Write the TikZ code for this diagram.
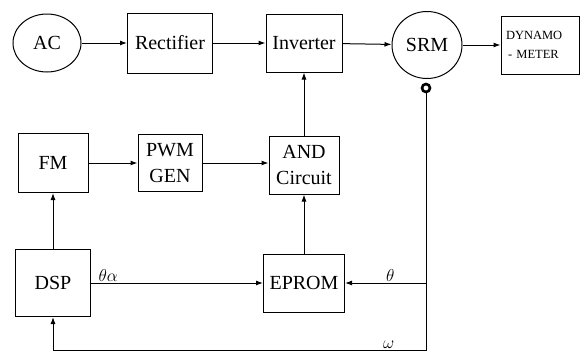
\documentclass[tikz,border=0pt]{standalone}
\usepackage{fontspec}
\setmainfont{Liberation Serif}
\usetikzlibrary{arrows.meta,positioning,shapes.geometric}
\tikzset{
  blk/.style ={draw,line width=1pt,minimum width=75pt,minimum height=58pt,align=center,
               inner sep=2pt,font=\rmfamily\fontsize{20}{26}\selectfont},
  src/.style ={blk,ellipse,minimum width=68pt,minimum height=58pt},
  sig/.style ={-{Latex[length=7pt,width=5pt]},line width=1pt},
  lbl/.style ={font=\fontsize{17}{20}\selectfont,inner sep=1pt},
}

\begin{document}
\begin{tikzpicture}[x=1pt,y=1pt]
\useasboundingbox (0,0) rectangle (580,-354);

% ---- power path ---------------------------------------------------------
\node[src] (ac) at (47,-43) {AC};
\node[blk,minimum width=85pt,minimum height=60pt] (rect) at (170,-43) {Rectifier};
\node[blk,minimum width=76pt] (inv) at (304,-43) {Inverter};
\node[src,minimum width=70pt,minimum height=67pt] (srm) at (427,-45) {SRM};
\node[blk,minimum width=78pt,text width=68pt,inner sep=5pt,align=left,
      font=\rmfamily\fontsize{12.5}{19}\selectfont] (dyn) at (540,-45) {DYNAMO\\\,- METER};
\node[circle,draw,line width=2.6pt,inner sep=0pt,minimum size=8pt] (enc) at (426,-88) {};

% ---- control path -------------------------------------------------------
\node[blk,minimum width=70pt,minimum height=59pt] (fm) at (53,-163) {FM};
\node[blk,minimum width=64pt,minimum height=57pt] (pwm) at (170,-163) {PWM\\GEN};
\node[blk,minimum width=70pt] (and) at (304,-165) {AND\\Circuit};
\node[blk,minimum height=67pt] (dsp) at (53,-283) {DSP};
\node[blk,minimum width=81pt] (eprom) at (304,-283) {EPROM};

\coordinate (th) at (426,-283);
\coordinate (om) at (426,-350);

\draw[sig] (ac) -- (rect);
\draw[sig] (rect) -- (inv);
\draw[sig] (inv) -- (srm);
\draw[sig] (srm) -- (dyn);
\draw[sig] (fm) -- (pwm);
\draw[sig] (pwm) -- (pwm -| and.west);
\draw[sig] (and) -- (inv);
\draw[sig] (eprom) -- (and);
\draw[sig] (dsp) -- (fm);
\draw[sig] (dsp) -- node[lbl,above,pos=0.1]{$\theta\alpha$} (eprom);
\draw[line width=1pt] (enc.south) -- (th);
\draw[sig] (th) -- node[lbl,above,pos=0.44]{$\theta$} (eprom.east);
\draw[sig] (th) -- (om) -- node[lbl,above,pos=0.1]{$\omega$} (om -| dsp.south) -- (dsp.south);
\end{tikzpicture}
\end{document}
